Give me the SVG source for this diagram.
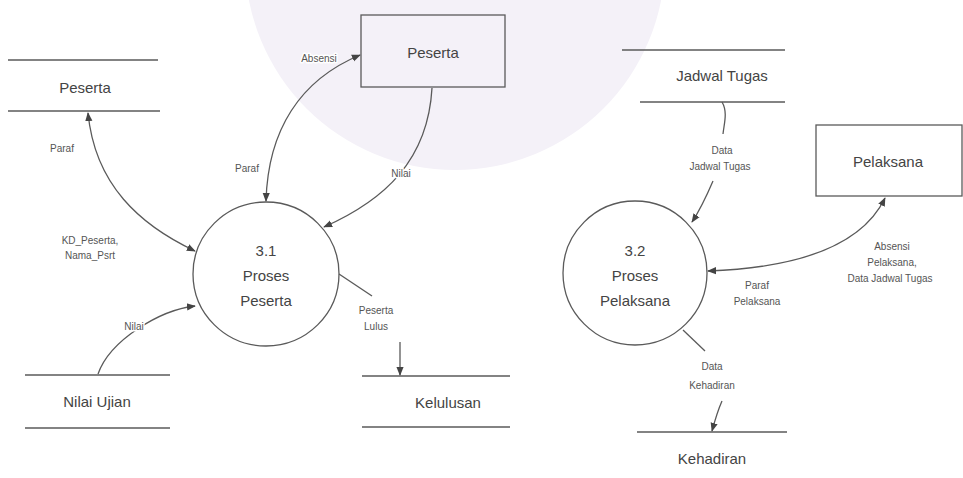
<svg xmlns="http://www.w3.org/2000/svg" width="963" height="478" viewBox="0 0 963 478">
<defs>
<style>
.ln{stroke:#5a5a5a;stroke-width:1.3;fill:none}
.st{stroke:#5a5a5a;stroke-width:1.3}
.big{font-family:"Liberation Sans",Arial,sans-serif;font-size:15px;fill:#444;text-anchor:middle}
.sm{font-family:"Liberation Sans",Arial,sans-serif;font-size:10px;fill:#555;text-anchor:middle;stroke:#fff;stroke-width:3px;paint-order:stroke;stroke-linejoin:round}
.box{fill:none;stroke:#5a5a5a;stroke-width:1.3}
.proc{fill:none;stroke:#5a5a5a;stroke-width:1.3}
</style>
<marker id="ah" viewBox="0 0 10 10" refX="9" refY="5" markerWidth="9" markerHeight="9" markerUnits="userSpaceOnUse" orient="auto-start-reverse">
<path d="M0,1 L10,5 L0,9 Z" fill="#444"/>
</marker>
</defs>
<rect width="963" height="478" fill="#fff"/>
<circle cx="455" cy="-40" r="210" fill="#f4f1f8"/>

<g id="store-peserta">
<line class="st" x1="8" y1="60" x2="158" y2="60"/>
<line class="st" x1="8" y1="111" x2="160" y2="111"/>
<text class="big" x="85" y="93">Peserta</text>
</g>
<g id="entity-peserta">
<rect class="box" x="361" y="15" width="144" height="72"/>
<text class="big" x="433" y="58">Peserta</text>
</g>
<g id="store-jadwal">
<line class="st" x1="622" y1="50" x2="785" y2="50"/>
<line class="st" x1="640" y1="102" x2="785" y2="102"/>
<text class="big" x="722" y="81">Jadwal Tugas</text>
</g>
<g id="entity-pelaksana">
<rect class="box" x="816" y="125" width="146" height="71"/>
<text class="big" x="888" y="167">Pelaksana</text>
</g>
<g id="proc-3-1">
<ellipse class="proc" cx="266" cy="274" rx="73" ry="72"/>
<text class="big" x="266" y="256">3.1</text>
<text class="big" x="266" y="281">Proses</text>
<text class="big" x="266" y="306">Peserta</text>
</g>
<g id="proc-3-2">
<ellipse class="proc" cx="635" cy="273" rx="72" ry="72"/>
<text class="big" x="635" y="256">3.2</text>
<text class="big" x="635" y="281">Proses</text>
<text class="big" x="635" y="306">Pelaksana</text>
</g>
<g id="store-nilai">
<line class="st" x1="25" y1="375" x2="170" y2="375"/>
<line class="st" x1="25" y1="428" x2="170" y2="428"/>
<text class="big" x="97" y="407">Nilai Ujian</text>
</g>
<g id="store-kelulusan">
<line class="st" x1="362" y1="376" x2="510" y2="376"/>
<line class="st" x1="362" y1="427" x2="510" y2="427"/>
<text class="big" x="448" y="408">Kelulusan</text>
</g>
<g id="store-kehadiran">
<line class="st" x1="637" y1="432" x2="787" y2="432"/>
<text class="big" x="712" y="464">Kehadiran</text>
</g>

<g id="connectors">
<path class="ln" d="M88,113 C95,185 140,225 195,251" marker-start="url(#ah)" marker-end="url(#ah)"/>
<path class="ln" d="M266,201 C268,130 300,80 360,55" marker-start="url(#ah)" marker-end="url(#ah)"/>
<path class="ln" d="M432,88 C428,160 385,200 324,227" marker-end="url(#ah)"/>
<path class="ln" d="M98,374 C110,340 160,310 195,306" marker-end="url(#ah)"/>
<path class="ln" d="M339,274 L372,296"/>
<path class="ln" d="M400,342 L400,375" marker-end="url(#ah)"/>
<path class="ln" d="M722,102 C728,112 724,124 723,134"/>
<path class="ln" d="M713,181 C707,195 700,210 692,222" marker-end="url(#ah)"/>
<path class="ln" d="M708,271 C790,268 860,250 885,198" marker-start="url(#ah)" marker-end="url(#ah)"/>
<path class="ln" d="M683,330 L705,351"/>
<path class="ln" d="M722,401 C718,410 715,420 712,431" marker-end="url(#ah)"/>
</g>

<g id="labels">
<text class="sm" x="62" y="152">Paraf</text>
<text class="sm" x="90" y="244">KD_Peserta,</text>
<text class="sm" x="90" y="259">Nama_Psrt</text>
<text class="sm" x="319" y="62">Absensi</text>
<text class="sm" x="247" y="172">Paraf</text>
<text class="sm" x="401" y="177">Nilai</text>
<text class="sm" x="134" y="330">Nilai</text>
<text class="sm" x="376" y="314">Peserta</text>
<text class="sm" x="376" y="330">Lulus</text>
<text class="sm" x="722" y="154">Data</text>
<text class="sm" x="720" y="170">Jadwal Tugas</text>
<text class="sm" x="892" y="250">Absensi</text>
<text class="sm" x="892" y="266">Pelaksana,</text>
<text class="sm" x="890" y="282">Data Jadwal Tugas</text>
<text class="sm" x="757" y="289">Paraf</text>
<text class="sm" x="757" y="305">Pelaksana</text>
<text class="sm" x="712" y="370">Data</text>
<text class="sm" x="712" y="389">Kehadiran</text>
</g>
</svg>
